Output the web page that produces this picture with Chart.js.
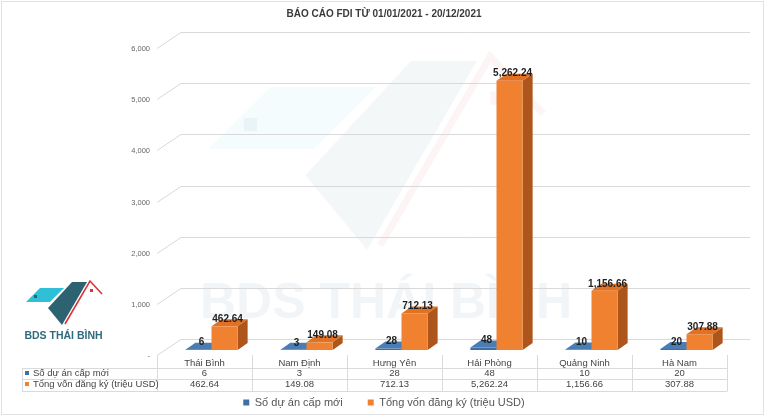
<!DOCTYPE html>
<html>
<head>
<meta charset="utf-8">
<title>Báo cáo FDI 2021</title>
<script src="https://cdn.jsdelivr.net/npm/chart.js@4.4.0/dist/chart.umd.min.js"></script>
<style>
    html, body { margin: 0; padding: 0; background: #fff; }
    #wrap { width: 768px; height: 418px; }
</style>
</head>
<body>
<div id="wrap"><canvas id="fdiChart" width="768" height="418"></canvas></div>
<script>
// Data
const provinces = ['Thái Bình', 'Nam Định', 'Hưng Yên', 'Hải Phòng', 'Quảng Ninh', 'Hà Nam'];
const newProjects = [6, 3, 28, 48, 10, 20];
const registeredCapital = [462.64, 149.08, 712.13, 5262.24, 1156.66, 307.88];
const seriesNames = ['Số dự án cấp mới', 'Tổng vốn đăng ký (triệu USD)'];
const yTicks = [0, 1000, 2000, 3000, 4000, 5000, 6000];
const chartTitle = 'BÁO CÁO FDI TỪ 01/01/2021 - 20/12/2021';
const brandName = 'BDS THÁI BÌNH';

// Face colours for the fake 3D bars
const BLUE = { front: '#3e70a6', top: '#4a7db4', side: '#2c5784' };
const ORANGE = { front: '#ef8131', top: '#e07125', side: '#ad551b' };

// Depth of the 3D look (px)
const DX = 10;
const DY = -7;
const SHIFT = 7;

const TABLE_FONT = "9.5px 'Liberation Sans', Arial, sans-serif";

Chart.defaults.font.family = "'Liberation Sans', Arial, sans-serif";

function formatMoney(v) {
    return v.toLocaleString('en-US', { minimumFractionDigits: 2, maximumFractionDigits: 2 });
}

// Draw the logo shape; units are relative to the tip of the dark roof
function drawLogo(ctx, ox, oy, s, alpha) {
    const P = (x, y) => [ox + x * s, oy + y * s];
    const poly = (pts, color) => {
        ctx.fillStyle = color;
        ctx.beginPath();
        pts.forEach((p, i) => {
            const [x, y] = P(p[0], p[1]);
            if (i === 0) ctx.moveTo(x, y); else ctx.lineTo(x, y);
        });
        ctx.closePath();
        ctx.fill();
    };
    ctx.save();
    ctx.globalAlpha = alpha;
    poly([[-36, -23], [-22, -37], [2, -37], [-12, -23]], '#2fc0d8');
    poly([[-14, -17], [10, -43], [25, -43], [0, 0]], '#2d6270');
    ctx.strokeStyle = '#d8343a';
    ctx.lineWidth = 1.6 * s;
    ctx.beginPath();
    ctx.moveTo(...P(3, -1));
    ctx.lineTo(...P(28, -44));
    ctx.lineTo(...P(40, -31));
    ctx.stroke();
    // little windows
    ctx.fillStyle = '#2d6270';
    const w1 = P(-28, -30);
    ctx.fillRect(w1[0], w1[1], 3 * s, 3 * s);
    ctx.fillStyle = '#d8343a';
    const w2 = P(28, -36);
    ctx.fillRect(w2[0], w2[1], 3 * s, 3 * s);
    ctx.restore();
}

// Background: frame, watermark, logo and the 3D wall gridlines
const backdrop = {
    id: 'backdrop',
    beforeDraw(chart) {
        const ctx = chart.ctx;
        ctx.save();
        ctx.fillStyle = '#ffffff';
        ctx.fillRect(0, 0, chart.width, chart.height);
        ctx.strokeStyle = '#e2e2e2';
        ctx.lineWidth = 1;
        ctx.strokeRect(1.5, 1.5, chart.width - 6, chart.height - 5);

        // faint watermark
        drawLogo(ctx, 367, 250, 4.4, 0.05);
        ctx.fillStyle = 'rgba(40, 90, 130, 0.06)';
        ctx.font = "bold 50px 'Liberation Sans', Arial, sans-serif";
        ctx.textBaseline = 'alphabetic';
        ctx.textAlign = 'left';
        ctx.fillText(brandName, 200, 318);

        // logo at the left
        drawLogo(ctx, 62, 325, 1, 1);
        ctx.fillStyle = '#2f6b7c';
        ctx.font = "bold 10.5px 'Liberation Sans', Arial, sans-serif";
        ctx.textAlign = 'center';
        ctx.fillText(brandName, 63.5, 339);
        ctx.restore();
    },
    beforeDatasetsDraw(chart) {
        const { ctx, chartArea } = chart;
        const y = chart.scales.y;
        ctx.save();
        ctx.strokeStyle = '#d9d9d9';
        ctx.lineWidth = 1;
        y.ticks.forEach(t => {
            const py = Math.round(y.getPixelForValue(t.value)) + 0.5;
            ctx.beginPath();
            ctx.moveTo(chartArea.left, py + 5);
            ctx.lineTo(chartArea.left + 24, py - 11);
            ctx.lineTo(chartArea.right + 23, py - 11);
            ctx.stroke();
        });
        ctx.restore();
    }
};

// Side and top faces, then value labels
const bars3d = {
    id: 'bars3d',
    afterDatasetsUpdate(chart) {
        chart.data.datasets.forEach((ds, i) => {
            chart.getDatasetMeta(i).data.forEach(bar => { bar.x += SHIFT; });
        });
    },
    beforeDatasetsDraw(chart) {
        const ctx = chart.ctx;
        ctx.save();
        chart.data.datasets.forEach((ds, i) => {
            const faces = ds.faces;
            chart.getDatasetMeta(i).data.forEach(bar => {
                const l = bar.x - bar.width / 2;
                const r = bar.x + bar.width / 2;
                const t = bar.y;
                const b = bar.base;
                ctx.fillStyle = faces.top;
                ctx.beginPath();
                ctx.moveTo(l, t);
                ctx.lineTo(l + DX, t + DY);
                ctx.lineTo(r + DX, t + DY);
                ctx.lineTo(r, t);
                ctx.closePath();
                ctx.fill();
                ctx.fillStyle = faces.side;
                ctx.beginPath();
                ctx.moveTo(r, t);
                ctx.lineTo(r + DX, t + DY);
                ctx.lineTo(r + DX, b + DY);
                ctx.lineTo(r, b);
                ctx.closePath();
                ctx.fill();
            });
        });
        ctx.restore();
    },
    afterDatasetsDraw(chart) {
        const ctx = chart.ctx;
        ctx.save();
        ctx.font = "bold 10px 'Liberation Sans', Arial, sans-serif";
        ctx.fillStyle = '#1e1e1e';
        ctx.textAlign = 'center';
        ctx.textBaseline = 'middle';
        chart.data.datasets.forEach((ds, i) => {
            chart.getDatasetMeta(i).data.forEach((bar, j) => {
                const v = ds.data[j];
                const txt = i === 0 ? String(v) : formatMoney(v);
                ctx.fillText(txt, bar.x + DX / 2 - 2, bar.y + DY);
            });
        });
        ctx.restore();
    }
};

// Data table under the categories: grid, row headers and values
const dataTable = {
    id: 'dataTable',
    afterDraw(chart) {
        const { ctx, chartArea } = chart;
        const x = chart.scales.x;
        const rows = [chartArea.bottom + 23, chartArea.bottom + 34];
        const lines = [chartArea.bottom + 18, chartArea.bottom + 29, chartArea.bottom + 41];
        const leftEdge = 22;
        const step = (chartArea.right - chartArea.left) / provinces.length;
        const rowValues = [newProjects.map(String), registeredCapital.map(formatMoney)];

        ctx.save();
        ctx.strokeStyle = '#dadada';
        ctx.lineWidth = 1;
        lines.forEach(ly => {
            ly = Math.round(ly) + 0.5;
            ctx.beginPath();
            ctx.moveTo(leftEdge, ly);
            ctx.lineTo(chartArea.right, ly);
            ctx.stroke();
        });
        for (let k = 0; k <= provinces.length; k++) {
            const lx = Math.round(x.left + k * step) + 0.5;
            ctx.beginPath();
            ctx.moveTo(lx, chartArea.bottom + 5);
            ctx.lineTo(lx, Math.round(lines[2]) + 0.5);
            ctx.stroke();
        }
        ctx.beginPath();
        ctx.moveTo(leftEdge + 0.5, Math.round(lines[0]) + 0.5);
        ctx.lineTo(leftEdge + 0.5, Math.round(lines[2]) + 0.5);
        ctx.stroke();

        ctx.font = TABLE_FONT;
        ctx.textBaseline = 'middle';
        [BLUE, ORANGE].forEach((c, i) => {
            ctx.fillStyle = c.front;
            ctx.fillRect(25, rows[i] - 2, 4, 4);
            ctx.fillStyle = '#444';
            ctx.textAlign = 'left';
            ctx.fillText(seriesNames[i], 33, rows[i]);
            ctx.textAlign = 'center';
            rowValues[i].forEach((txt, j) => {
                ctx.fillText(txt, x.getPixelForTick(j), rows[i]);
            });
        });
        ctx.restore();
    }
};

const ctx = document.getElementById('fdiChart');
new Chart(ctx, {
    type: 'bar',
    data: {
        labels: provinces,
        datasets: [
            {
                label: seriesNames[0],
                data: newProjects,
                backgroundColor: BLUE.front,
                faces: BLUE,
                borderWidth: 0,
                categoryPercentage: 0.55,
                barPercentage: 1
            },
            {
                label: seriesNames[1],
                data: registeredCapital,
                backgroundColor: ORANGE.front,
                faces: ORANGE,
                borderWidth: 0,
                categoryPercentage: 0.55,
                barPercentage: 1
            }
        ]
    },
    options: {
        responsive: false,
        animation: false,
        layout: { padding: { left: 41, right: 41, top: 0, bottom: 0 } },
        plugins: {
            title: {
                display: true,
                text: chartTitle,
                color: '#3a3a3a',
                font: { size: 10, weight: 'bold' },
                padding: { top: 8, bottom: 23 }
            },
            legend: {
                position: 'bottom',
                labels: {
                    boxWidth: 6,
                    boxHeight: 6,
                    padding: 25,
                    color: '#555',
                    font: { size: 11 }
                }
            },
            tooltip: { enabled: false }
        },
        scales: {
            x: {
                grid: { display: false, drawTicks: false },
                border: { display: false },
                ticks: {
                    autoSkip: false,
                    maxRotation: 0,
                    color: '#444',
                    padding: 8,
                    font: { size: 9.5 }
                },
                afterFit(axis) { axis.height = 22; }
            },
            y: {
                min: 0,
                max: 6000,
                grid: { display: false, drawTicks: false },
                border: { display: false },
                afterBuildTicks(axis) { axis.ticks = yTicks.map(value => ({ value })); },
                afterFit(axis) { axis.width = 116; },
                ticks: {
                    color: '#666',
                    padding: 7,
                    labelOffset: 6,
                    font: { size: 7.5 },
                    callback: v => (v === 0 ? '-' : v.toLocaleString('en-US'))
                }
            }
        }
    },
    plugins: [backdrop, bars3d, dataTable]
});
</script>
</body>
</html>
